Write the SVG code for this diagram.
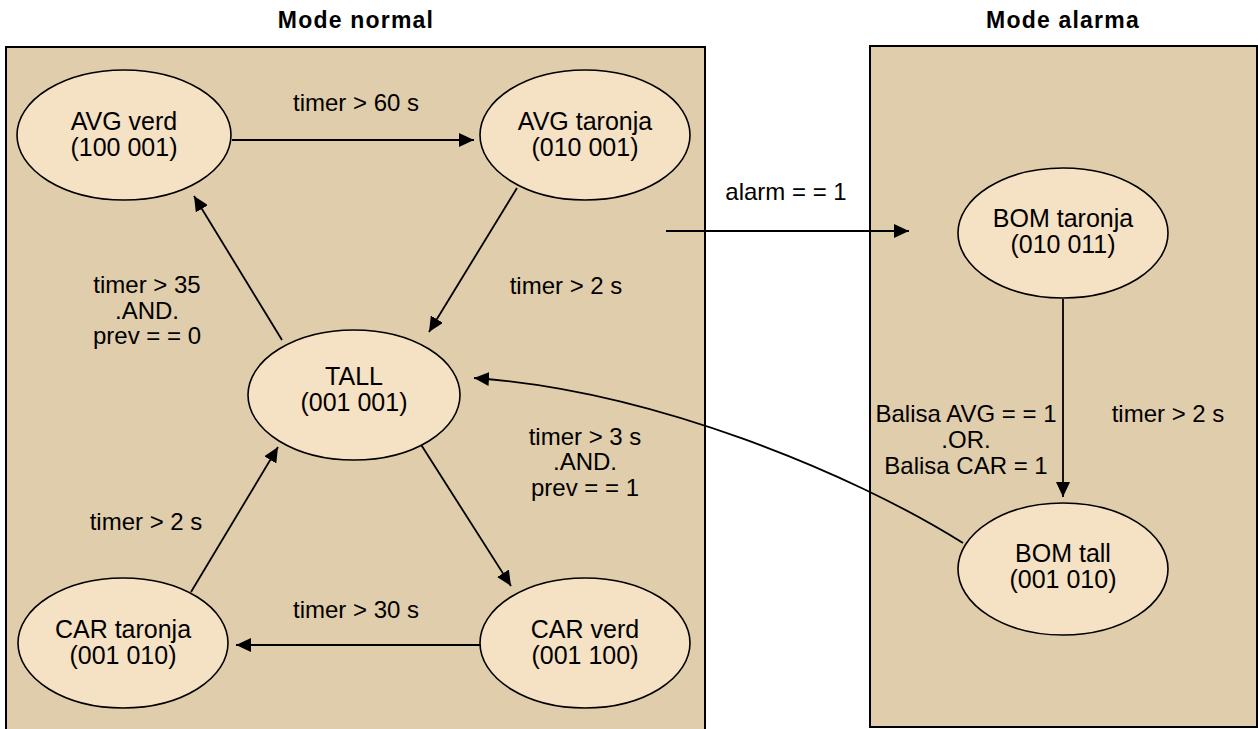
<svg xmlns="http://www.w3.org/2000/svg" width="1258" height="729" viewBox="0 0 1258 729">
<style>
text{font-family:"Liberation Sans",Arial,sans-serif;font-size:25px;fill:#000;text-anchor:middle}
#connectors text{font-size:24px}
.title{font-weight:bold;font-size:23px;letter-spacing:1.2px}
.region{fill:#e0cdab;stroke:#000;stroke-width:2}
.node ellipse{fill:#f5e1c3;stroke:#000;stroke-width:1.6}
.edge{fill:none;stroke:#000;stroke-width:1.8;marker-end:url(#ah)}
</style>
<defs>
<marker id="ah" markerUnits="userSpaceOnUse" markerWidth="16" markerHeight="14" refX="15" refY="7" orient="auto">
<path d="M0,0 L15,7 L0,14 z" fill="#000"/>
</marker>
</defs>
<rect width="1258" height="729" fill="#fff"/>
<g id="region-normal">
<rect class="region" x="6" y="47" width="699" height="690"/>
<text class="title" x="356" y="28">Mode normal</text>
</g>
<g id="region-alarma">
<rect class="region" x="870" y="46" width="387" height="681"/>
<text class="title" x="1063" y="28">Mode alarma</text>
</g>
<g id="connectors">
<line class="edge" x1="232" y1="140" x2="474" y2="140"/>
<line class="edge" x1="517" y1="188" x2="429" y2="332"/>
<line class="edge" x1="282" y1="340" x2="194" y2="196"/>
<line class="edge" x1="420" y1="443" x2="511" y2="586"/>
<line class="edge" x1="481" y1="645" x2="236" y2="645"/>
<line class="edge" x1="191" y1="592" x2="278" y2="447"/>
<line class="edge" x1="666" y1="231" x2="909" y2="231"/>
<line class="edge" x1="1063" y1="299" x2="1063" y2="497"/>
<path class="edge" d="M963,543 C850,472 650,390 474,378"/>
<text x="356" y="111">timer &gt; 60 s</text>
<text x="786" y="200">alarm = = 1</text>
<text x="566" y="294">timer &gt; 2 s</text>
<text x="147" y="293">timer &gt; 35</text>
<text x="147" y="319">.AND.</text>
<text x="147" y="344">prev = = 0</text>
<text x="585" y="445">timer &gt; 3 s</text>
<text x="585" y="470">.AND.</text>
<text x="585" y="496">prev = = 1</text>
<text x="146" y="530">timer &gt; 2 s</text>
<text x="356" y="618">timer &gt; 30 s</text>
<text x="966" y="422">Balisa AVG = = 1</text>
<text x="966" y="448">.OR.</text>
<text x="966" y="474">Balisa CAR = 1</text>
<text x="1168" y="422">timer &gt; 2 s</text>
</g>
<g id="avg-verd" class="node">
<ellipse cx="124" cy="135" rx="107" ry="65"/>
<text x="124" y="130">AVG verd</text>
<text x="124" y="156">(100 001)</text>
</g>
<g id="avg-taronja" class="node">
<ellipse cx="585" cy="135" rx="105" ry="65"/>
<text x="585" y="130">AVG taronja</text>
<text x="585" y="156">(010 001)</text>
</g>
<g id="tall" class="node">
<ellipse cx="354" cy="395" rx="106" ry="65"/>
<text x="354" y="385">TALL</text>
<text x="354" y="411">(001 001)</text>
</g>
<g id="car-taronja" class="node">
<ellipse cx="123" cy="643" rx="105" ry="65"/>
<text x="123" y="638">CAR taronja</text>
<text x="123" y="664">(001 010)</text>
</g>
<g id="car-verd" class="node">
<ellipse cx="585" cy="643" rx="105" ry="65"/>
<text x="585" y="638">CAR verd</text>
<text x="585" y="664">(001 100)</text>
</g>
<g id="bom-taronja" class="node">
<ellipse cx="1063" cy="233" rx="105" ry="65"/>
<text x="1063" y="227">BOM taronja</text>
<text x="1063" y="253">(010 011)</text>
</g>
<g id="bom-tall" class="node">
<ellipse cx="1063" cy="569" rx="105" ry="66"/>
<text x="1063" y="562">BOM tall</text>
<text x="1063" y="588">(001 010)</text>
</g>
</svg>
